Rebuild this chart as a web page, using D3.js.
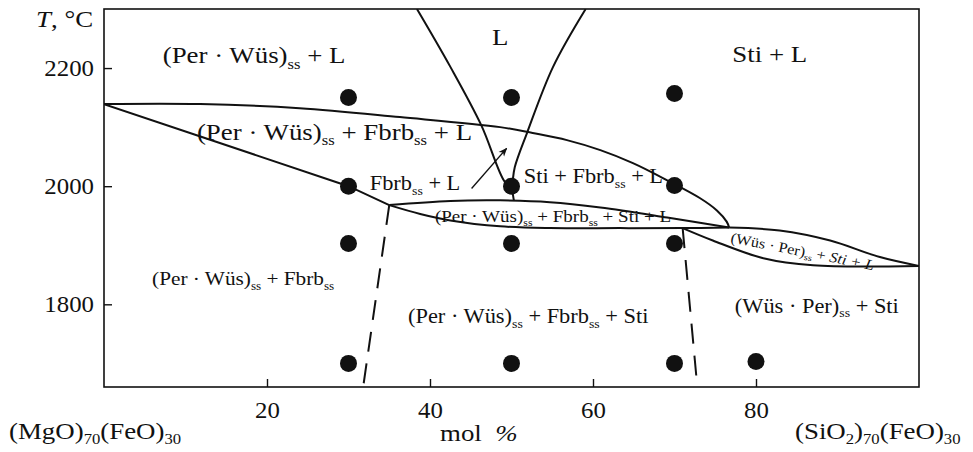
<!DOCTYPE html>
<html>
<head>
<meta charset="utf-8">
<script src="https://cdn.jsdelivr.net/npm/d3@7"></script>
<style>
  body { margin: 0; background: #fff; }
  svg text { font-family: "Liberation Serif", "Times New Roman", serif; fill: #111; }
</style>
</head>
<body>
<div id="chart"></div>
<script>
// axis ticks
var xTicks = [20, 40, 60, 80];
var yTicks = [1800, 2000, 2200];

// experiment points [mol %, T]
var samples = [
  [30, 2150], [50, 2150], [70, 2157],
  [30, 2000], [50, 2000], [70, 2001],
  [30, 1903], [50, 1903], [70, 1903],
  [30, 1700], [50, 1700], [70, 1700], [80, 1703]
];

// phase boundaries [mol %, T]
var liquidusTop = [[0,2139],[11.8,2139],[24,2132],[36.3,2117],[48.6,2100],[52.6,2090],[56.8,2078],[60.9,2061],[64.9,2039],[69.1,2010],[73.1,1980],[75.2,1959],[76.4,1940],[76.7,1930]];
var fbrbSolidus = [[0,2139],[30,2000],[35,1968]];
var lensTop = [[35,1968],[42.5,1975],[48.6,1976],[54.7,1973],[60.9,1964],[69.1,1947],[76.7,1930]];
var lensBottom = [[35,1968],[38.8,1953],[42.5,1942],[48.6,1932],[54.7,1929],[63.3,1929],[71,1929],[76.7,1930]];
var wusTop = [[76.7,1930],[82.9,1925],[89.1,1908],[95.2,1880],[100,1865]];
var wusBottom = [[71,1929],[74.7,1908],[80.9,1878],[87,1866],[100,1865]];
var fbrbLiquidus = [[38.4,2300],[42.5,2202],[46.3,2103],[49.2,2007],[50,2000]];
var stiLiquidus = [[59.1,2300],[55.1,2202],[51.9,2090],[50.4,2032],[50.1,2005],[50,2000]];
var stem = [[50,2000],[50.3,1975]];
var dashLeft = [[35,1968],[31.8,1660]];
var dashRight = [[71,1929],[72.8,1660]];
var arrowLine = [[45.1,1996],[49.4,2064]];

// region labels: [x mol %, T, size, parts]  (parts: text, [text,"sub"] or [text,"it"])
var regions = [
  [7.2, 2208, 24, ["(Per · Wüs)", ["ss","sub"], " + L"]],
  [47.6, 2239, 24, ["L"]],
  [77.1, 2211, 24, ["Sti + L"]],
  [11.4, 2078, 24, ["(Per · Wüs)", ["ss","sub"], " + Fbrb", ["ss","sub"], " + L"]],
  [32.6, 1993, 20, ["Fbrb", ["ss","sub"], " + L"]],
  [51.5, 2005, 20, ["Sti + Fbrb", ["ss","sub"], " + L"]],
  [40.6, 1939, 17, ["(Per · Wüs)", ["ss","sub"], " + Fbrb", ["ss","sub"], " + Sti + L"]],
  [5.9, 1832, 19, ["(Per · Wüs)", ["ss","sub"], " + Fbrb", ["ss","sub"]]],
  [37.3, 1768, 20, ["(Per · Wüs)", ["ss","sub"], " + Fbrb", ["ss","sub"], "  + Sti"]],
  [77.4, 1786, 20, ["(Wüs · Per)", ["ss","sub"], " + Sti"]]
];

var width = 973, height = 452;
var stretch = 1.12;   // the scan's lettering is a bit wider than Liberation Serif
var serif = "'Liberation Serif', 'Times New Roman', serif";
var x = d3.scaleLinear().domain([0, 100]).range([104, 919]);
var y = d3.scaleLinear().domain([1660, 2300]).range([387, 9]);

var svg = d3.select("#chart").append("svg")
    .attr("width", width)
    .attr("height", height);

var defs = svg.append("defs");
defs.append("clipPath").attr("id", "plot")
  .append("rect").attr("x", x(0)).attr("y", y(2300))
  .attr("width", x(100) - x(0)).attr("height", y(1660) - y(2300));

defs.append("marker")
    .attr("id", "head")
    .attr("viewBox", "0 0 10 10")
    .attr("refX", 9).attr("refY", 5)
    .attr("markerWidth", 9).attr("markerHeight", 9)
    .attr("markerUnits", "userSpaceOnUse")
    .attr("orient", "auto")
  .append("path").attr("d", "M0,1 L10,5 L0,9 L3,5 Z").attr("fill", "#111");

// frame
svg.append("rect")
    .attr("x", x(0)).attr("y", y(2300))
    .attr("width", x(100) - x(0)).attr("height", y(1660) - y(2300))
    .attr("fill", "none").attr("stroke", "#111").attr("stroke-width", 1.6);

// axes, ticks pointing inwards
var xAxis = svg.append("g")
    .attr("transform", "translate(0," + y(1660) + ")")
    .call(d3.axisBottom(x).tickValues(xTicks).tickSize(-8).tickPadding(14).tickFormat(d3.format("d")));
var yAxis = svg.append("g")
    .attr("transform", "translate(" + x(0) + ",0)")
    .call(d3.axisLeft(y).tickValues(yTicks).tickSize(-8).tickPadding(10).tickFormat(d3.format("d")));
[xAxis, yAxis].forEach(function(g){
  g.attr("font-family", null).attr("font-size", null);
  g.select(".domain").remove();
  g.selectAll(".tick line").attr("stroke", "#111").attr("stroke-width", 1.4);
  g.selectAll(".tick text")
    .style("font-family", serif)
    .attr("font-size", 23).attr("fill", "#111");
});
xAxis.selectAll(".tick text").attr("dy", "0.75em").attr("transform", "scale(1.08,1)");
yAxis.selectAll(".tick text").each(function(){
  var t = d3.select(this), tx = +t.attr("x");
  t.attr("x", 0).attr("transform", "translate(" + tx + ",0) scale(1.08,1)");
});

var line = d3.line()
    .x(function(d){ return x(d[0]); })
    .y(function(d){ return y(d[1]); })
    .curve(d3.curveCatmullRom.alpha(0.5));

var curves = svg.append("g").attr("clip-path", "url(#plot)")
    .attr("fill", "none").attr("stroke", "#111").attr("stroke-width", 2);

[liquidusTop, lensTop, lensBottom, wusTop, wusBottom, fbrbLiquidus, stiLiquidus, stem].forEach(function(c){
  curves.append("path").attr("d", line(c));
});
curves.append("path").attr("d", d3.line().x(function(d){ return x(d[0]); }).y(function(d){ return y(d[1]); })(fbrbSolidus));

[dashLeft, dashRight].forEach(function(c){
  curves.append("path").attr("d", line(c))
    .attr("stroke-dasharray", "20,12");
});

svg.append("path")
    .attr("d", line(arrowLine))
    .attr("stroke", "#111").attr("stroke-width", 1.4).attr("fill", "none")
    .attr("marker-end", "url(#head)");

svg.append("g").selectAll("circle")
    .data(samples)
  .enter().append("circle")
    .attr("cx", function(d){ return x(d[0]); })
    .attr("cy", function(d){ return y(d[1]); })
    .attr("r", 8.5)
    .attr("fill", "#111");

// text with subscripts; shift is carried over to the next piece
function richText(sel, parts, size){
  var shift = 0;
  parts.forEach(function(p){
    var str = typeof p === "string" ? p : p[0];
    var kind = typeof p === "string" ? "" : p[1];
    var target = kind === "sub" ? size * 0.22 : 0;
    var t = sel.append("tspan").text(str);
    if (target !== shift) { t.attr("dy", target - shift); shift = target; }
    if (kind === "sub") t.attr("font-size", size * 0.62);
    if (kind === "it") t.attr("font-style", "italic");
  });
  return sel;
}

function label(px, py, size, parts, rot){
  var t = svg.append("text")
      .attr("transform", "translate(" + px + "," + py + ")" + (rot ? " rotate(" + rot + ")" : "") + " scale(" + stretch + ",1)")
      .style("font-family", serif)
      .attr("font-size", size);
  return richText(t, parts, size);
}

regions.forEach(function(r){
  label(x(r[0]), y(r[1]), r[2], r[3]);
});

// the sloping label in the narrow lens on the right
label(x(76.8), y(1905), 14.5, ["(Wüs · Per)", ["ss","sub"], " + ", ["Sti + L","it"]], 11);

// axis titles
label(36, 27, 24, [["T","it"], ", °C"]);

var mol = label(440, 441, 24, ["mol"]);
mol.append("tspan").attr("dx", 12).attr("font-style", "italic").text("%");

label(9, 439, 24, ["(MgO)", ["70","sub"], "(FeO)", ["30","sub"]]);
label(795, 439, 24, ["(SiO", ["2","sub"], ")", ["70","sub"], "(FeO)", ["30","sub"]]);
</script>
</body>
</html>
